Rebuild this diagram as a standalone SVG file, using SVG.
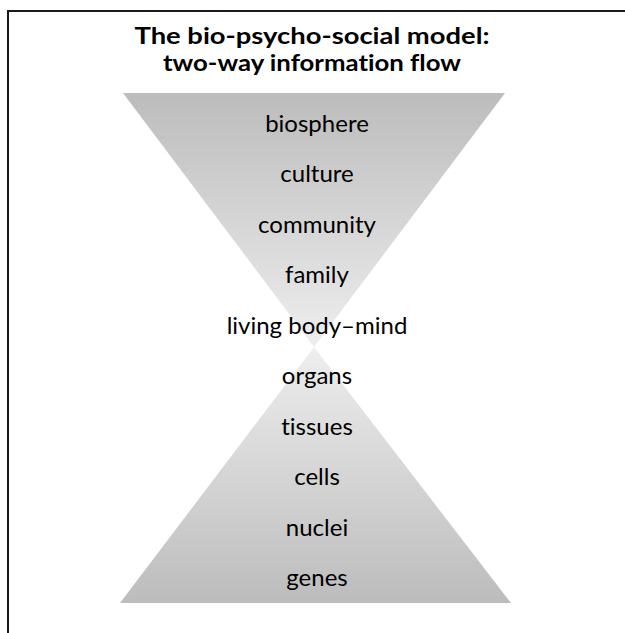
<svg xmlns="http://www.w3.org/2000/svg" width="625" height="633" viewBox="0 0 625 633">
  <defs>
    <linearGradient id="gTop" x1="0" y1="93" x2="0" y2="347" gradientUnits="userSpaceOnUse">
      <stop offset="0" stop-color="#bcbcbc"/>
      <stop offset="1" stop-color="#eeeeee"/>
    </linearGradient>
    <linearGradient id="gBot" x1="0" y1="347" x2="0" y2="603" gradientUnits="userSpaceOnUse">
      <stop offset="0" stop-color="#eeeeee"/>
      <stop offset="1" stop-color="#bcbcbc"/>
    </linearGradient>
  </defs>
  <style>
    text { font-variant-ligatures: none; font-feature-settings: "liga" 0; }
    .title { font-family: Lato, "Liberation Sans", sans-serif; font-weight: bold; font-size: 23px; fill: #000; text-anchor: middle; }
    .lbl { font-family: Lato, "Liberation Sans", sans-serif; font-size: 24px; fill: #000; text-anchor: middle; }
  </style>
  <rect width="625" height="633" fill="#ffffff"/>
  <g id="frame" fill="none" stroke="#1a1a1a" stroke-width="2">
    <polyline points="625,11 8,11 8,633"/>
  </g>
  <g id="title">
    <text class="title" x="312" y="44" textLength="355" lengthAdjust="spacingAndGlyphs">The bio-psycho-social model:</text>
    <text class="title" x="312" y="71" textLength="298" lengthAdjust="spacingAndGlyphs">two-way information flow</text>
  </g>
  <g id="hourglass">
    <polygon points="123,93 505,93 314,347" fill="url(#gTop)"/>
    <polygon points="314,347 511,603 120,603" fill="url(#gBot)"/>
  </g>
  <g id="levels">
    <g id="n-biosphere"><text class="lbl" x="317" y="131.5">biosphere</text></g>
    <g id="n-culture"><text class="lbl" x="317" y="182">culture</text></g>
    <g id="n-community"><text class="lbl" x="317" y="232.5">community</text></g>
    <g id="n-family"><text class="lbl" x="317" y="283">family</text></g>
    <g id="n-living"><text class="lbl" x="317" y="333.5">living body–mind</text></g>
    <g id="n-organs"><text class="lbl" x="317" y="384">organs</text></g>
    <g id="n-tissues"><text class="lbl" x="317" y="434.5">tissues</text></g>
    <g id="n-cells"><text class="lbl" x="317" y="485">cells</text></g>
    <g id="n-nuclei"><text class="lbl" x="317" y="535.5">nuclei</text></g>
    <g id="n-genes"><text class="lbl" x="317" y="586">genes</text></g>
  </g>
</svg>
